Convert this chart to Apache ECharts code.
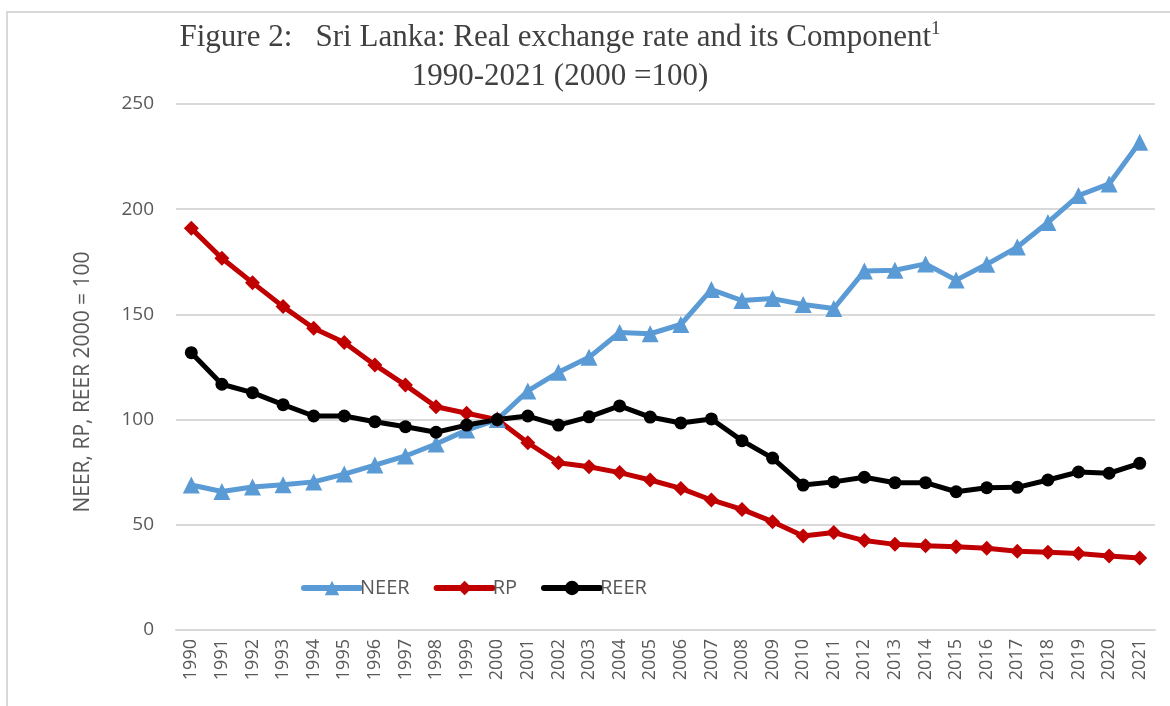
<!DOCTYPE html>
<html>
<head>
<meta charset="utf-8">
<script src="https://cdn.jsdelivr.net/npm/echarts@6/dist/echarts.min.js"></script>
<style>
  html, body { margin: 0; padding: 0; background: #fff; }
  #chart { width: 1170px; height: 706px; }
</style>
</head>
<body>
<div id="chart"></div>
<script>
// ---------- data ----------
var years = ['1990','1991','1992','1993','1994','1995','1996','1997','1998','1999','2000',
             '2001','2002','2003','2004','2005','2006','2007','2008','2009','2010',
             '2011','2012','2013','2014','2015','2016','2017','2018','2019','2020','2021'];

var neer = [68.9, 65.8, 68.0, 69.0, 70.4, 74.1, 78.4, 82.7, 88.4, 95.0, 100,
            113.6, 122.5, 129.6, 141.4, 140.8, 145.2, 161.8, 156.6, 157.5, 154.7,
            152.8, 170.6, 171.0, 174.0, 166.3, 173.8, 182.0, 193.7, 206.5, 212.0, 231.8];

var rp = [190.9, 176.7, 165.1, 153.7, 143.4, 136.6, 126.0, 116.4, 106.1, 103.0, 100,
          89.0, 79.5, 77.6, 74.8, 71.3, 67.3, 61.8, 57.3, 51.5, 44.7,
          46.3, 42.5, 40.7, 40.1, 39.6, 38.9, 37.4, 36.9, 36.4, 35.2, 34.2];

var reer = [131.8, 116.8, 112.8, 107.1, 101.7, 101.7, 99.0, 96.6, 94.0, 97.4, 100,
            101.7, 97.4, 101.3, 106.5, 101.2, 98.4, 100.3, 90.0, 81.7, 68.9,
            70.4, 72.6, 70.0, 70.0, 65.7, 67.6, 67.8, 71.3, 75.1, 74.5, 79.2];

var yTicks = [0, 50, 100, 150, 200, 250];

var textGray = '#595959';
var sansFont = 'Open Sans';
var serifFont = 'Liberation Serif';

// ---------- chart ----------
var chart_dom = document.getElementById('chart');
var chart = echarts.init(chart_dom, null, {renderer: 'canvas'});

function line_series(name, data, color, symbol, size) {
    return {
        name: name,
        type: 'line',
        data: data,
        symbol: symbol,
        symbolSize: size,
        lineStyle: {color: color, width: 5},
        itemStyle: {color: color},
        animation: false
    };
}

chart.setOption({
    backgroundColor: '#fff',
    animation: false,
    title: [
        {
            left: 555,
            top: 15,
            textAlign: 'center',
            text: '{a|Figure 2:   Sri Lanka: Real exchange rate and its Component}{s|1}',
            textStyle: {
                fontWeight: 'normal',
                rich: {
                    a: {fontFamily: serifFont, fontSize: 31, fontWeight: 'normal', color: '#404040', lineHeight: 36},
                    s: {fontFamily: serifFont, fontSize: 19, fontWeight: 'normal', color: '#404040', verticalAlign: 'top', lineHeight: 36}
                }
            }
        },
        {
            left: 555,
            top: 56,
            textAlign: 'center',
            text: '1990-2021 (2000 =100)',
            textStyle: {fontFamily: serifFont, fontSize: 31, fontWeight: 'normal', color: '#404040'}
        }
    ],
    legend: {
        left: 296,
        top: 573,
        itemWidth: 56,
        itemHeight: 18,
        itemGap: 24,
        lineStyle: {width: 6, cap: 'round'},
        textStyle: {fontFamily: sansFont, fontSize: 20, color: textGray, padding: [0, 0, 0, -5]},
        data: ['NEER', 'RP', 'REER']
    },
    graphic: [
        {
            type: 'rect',
            silent: true,
            shape: {x: 7, y: 12, width: 1300, height: 900},
            style: {fill: null, stroke: '#d9d9d9', lineWidth: 2}
        }
    ],
    grid: {left: 176, right: 15, top: 104, bottom: 76, containLabel: false},
    xAxis: {
        type: 'category',
        data: years,
        boundaryGap: true,
        axisLine: {show: true, lineStyle: {color: '#d9d9d9', width: 2}},
        axisTick: {show: false},
        axisLabel: {
            rotate: 90,
            interval: 0,
            margin: 9,
            fontFamily: sansFont,
            fontSize: 18,
            color: textGray
        }
    },
    yAxis: {
        type: 'value',
        min: yTicks[0],
        max: yTicks[yTicks.length - 1],
        interval: 50,
        name: 'NEER, RP, REER 2000 = 100',
        nameLocation: 'middle',
        nameGap: 82,
        nameTextStyle: {fontFamily: sansFont, fontSize: 21, color: textGray, padding: [0, 30, 0, 0]},
        axisLine: {show: false},
        axisTick: {show: false},
        splitLine: {lineStyle: {color: '#d9d9d9', width: 2}},
        axisLabel: {
            margin: 22,
            fontFamily: sansFont,
            fontSize: 19,
            color: textGray
        }
    },
    series: [
        line_series('NEER', neer, '#5B9BD5', 'triangle', 17),
        line_series('RP', rp, '#C00000', 'diamond', 15),
        line_series('REER', reer, '#000000', 'circle', 13)
    ]
});

window.addEventListener('resize', function () { chart.resize(); });
</script>
</body>
</html>
